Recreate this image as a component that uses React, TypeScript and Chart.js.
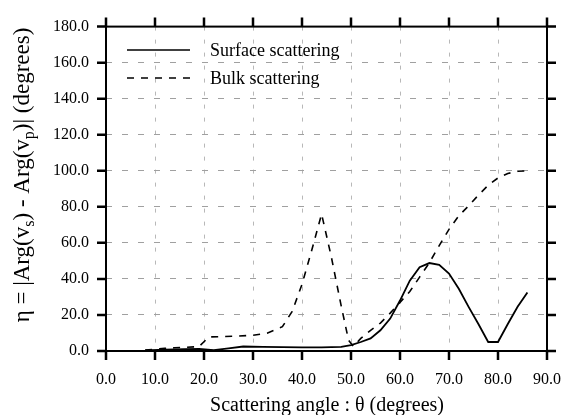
import React, { useEffect, useRef } from "react";
import { Chart, registerables } from "chart.js";

Chart.register(...registerables);

const surfaceX = [8, 12, 16, 19, 22, 25, 28, 32, 36, 40, 44, 48, 50, 52, 54, 56, 58, 60, 62, 64, 66, 68, 70, 72, 74, 76, 78, 80, 82, 84, 86];
const surfaceY = [0.3, 0.8, 1.0, 1.2, 0.5, 1.5, 2.5, 2.3, 2.2, 2.0, 2.0, 2.3, 3.3, 5, 7, 11.5, 18, 28, 39, 46.5, 48.8, 47.8, 43, 34.5, 24.5, 15, 5, 5, 15, 24.5, 32.5];

const bulkX = [8, 10, 12, 14, 16, 18, 19, 21, 24, 27, 30, 33, 36, 38, 40, 42, 44, 46, 48, 49.5, 50.5, 52, 54, 56, 58, 60, 62, 64, 66, 68, 70, 72, 74, 76, 78, 80, 82, 84, 86];
const bulkY = [0.5, 1, 1.5, 1.8, 2, 2.3, 2.5, 7.8, 8, 8.3, 8.7, 10, 13.5, 22, 37, 56, 76, 52, 25, 6, 2.5, 7, 11.5, 15.5, 21, 27, 33, 41, 49, 58.5, 67.5, 75, 80.5, 86.5, 92, 96, 98.5, 99.7, 100];

const xTicks = [0, 10, 20, 30, 40, 50, 60, 70, 80, 90];
const yTicks = [0, 20, 40, 60, 80, 100, 120, 140, 160, 180];
const seriesNames = ["Surface scattering", "Bulk scattering"];
const xTitle = "Scattering angle : \u03b8 (degrees)";

const FONT = "'Liberation Serif', 'Times New Roman', serif";

const framePlugin = {
  id: "frame",
  afterDraw(chart: any) {
    const { ctx, chartArea: a, scales } = chart;
    const xs = scales.x;
    const ys = scales.y;
    ctx.save();
    ctx.strokeStyle = "#000";
    ctx.lineWidth = 2;
    ctx.setLineDash([]);
    ctx.strokeRect(a.left, a.top, a.right - a.left, a.bottom - a.top);
    ctx.lineWidth = 2.5;
    const tl = 9;
    xTicks.forEach((v) => {
      const px = xs.getPixelForValue(v);
      ctx.beginPath();
      ctx.moveTo(px, a.bottom);
      ctx.lineTo(px, a.bottom + tl);
      ctx.moveTo(px, a.top);
      ctx.lineTo(px, a.top - tl);
      ctx.stroke();
    });
    yTicks.forEach((v) => {
      const py = ys.getPixelForValue(v);
      ctx.beginPath();
      ctx.moveTo(a.left, py);
      ctx.lineTo(a.left - tl, py);
      ctx.moveTo(a.right, py);
      ctx.lineTo(a.right + tl, py);
      ctx.stroke();
    });

    // legend
    ctx.lineWidth = 1.6;
    ctx.beginPath();
    ctx.moveTo(127, 50);
    ctx.lineTo(190, 50);
    ctx.stroke();
    ctx.setLineDash([7, 7]);
    ctx.beginPath();
    ctx.moveTo(127, 78);
    ctx.lineTo(190, 78);
    ctx.stroke();
    ctx.setLineDash([]);
    ctx.fillStyle = "#000";
    ctx.font = `18px ${FONT}`;
    ctx.textAlign = "left";
    ctx.textBaseline = "alphabetic";
    ctx.fillText(seriesNames[0], 210, 56);
    ctx.fillText(seriesNames[1], 210, 84);

    // x title
    ctx.font = `20px ${FONT}`;
    ctx.textAlign = "center";
    ctx.textBaseline = "alphabetic";
    ctx.fillText(xTitle, 327, 411);

    // y title with subscripts
    const big = `23px ${FONT}`;
    const small = `16px ${FONT}`;
    const segs: [string, boolean][] = [
      ["\u03b7 = |Arg(v", false],
      ["s", true],
      [") - Arg(v", false],
      ["p", true],
      [")| (degrees)", false],
    ];
    let total = 0;
    const widths = segs.map(([t, sub]) => {
      ctx.font = sub ? small : big;
      const w = ctx.measureText(t).width;
      total += w;
      return w;
    });
    ctx.translate(29, 175);
    ctx.rotate(-Math.PI / 2);
    ctx.textAlign = "left";
    ctx.textBaseline = "alphabetic";
    let cx = -total / 2;
    segs.forEach(([t, sub], i) => {
      ctx.font = sub ? small : big;
      ctx.fillText(t, cx, sub ? 5 : 0);
      cx += widths[i];
    });
    ctx.restore();
  },
};

export default function App() {
  const ref = useRef<HTMLCanvasElement>(null);
  useEffect(() => {
    document.body.style.margin = "0";
    const chart = new Chart(ref.current!, {
      type: "line",
      data: {
        datasets: [
          {
            label: seriesNames[0],
            data: surfaceX.map((x, i) => ({ x, y: surfaceY[i] })),
            borderColor: "#000",
            borderWidth: 1.8,
            pointRadius: 0,
            tension: 0,
          },
          {
            label: seriesNames[1],
            data: bulkX.map((x, i) => ({ x, y: bulkY[i] })),
            borderColor: "#000",
            borderWidth: 1.6,
            borderDash: [7, 7],
            pointRadius: 0,
            tension: 0,
          },
        ],
      },
      options: {
        animation: false,
        responsive: false,
        layout: { padding: { top: 19, right: 17, left: 0, bottom: 0 } },
        plugins: { legend: { display: false }, tooltip: { enabled: false } },
        scales: {
          x: {
            type: "linear",
            min: 0,
            max: 90,
            afterBuildTicks: (s: any) => {
              s.ticks = xTicks.map((v) => ({ value: v }));
            },
            afterFit: (s: any) => {
              s.height = 64;
            },
            grid: { color: "#b8b8b8", lineWidth: 1, drawTicks: false },
            border: { display: false, dash: [4, 9] },
            ticks: {
              color: "#000",
              font: { family: FONT, size: 16 },
              padding: 19,
              maxRotation: 0,
              callback: (v: any) => Number(v).toFixed(1),
            },
          },
          y: {
            type: "linear",
            min: 0,
            max: 180,
            afterBuildTicks: (s: any) => {
              s.ticks = yTicks.map((v) => ({ value: v }));
            },
            afterFit: (s: any) => {
              s.width = 106;
            },
            grid: { color: "#a0a0a0", lineWidth: 1, drawTicks: false },
            border: { display: false, dash: [6, 10] },
            ticks: {
              color: "#000",
              font: { family: FONT, size: 16 },
              padding: 17,
              callback: (v: any) => Number(v).toFixed(1),
            },
          },
        },
      },
      plugins: [framePlugin],
    } as any);
    return () => chart.destroy();
  }, []);
  return <canvas ref={ref} width={580} height={415} style={{ display: "block" }} />;
}
